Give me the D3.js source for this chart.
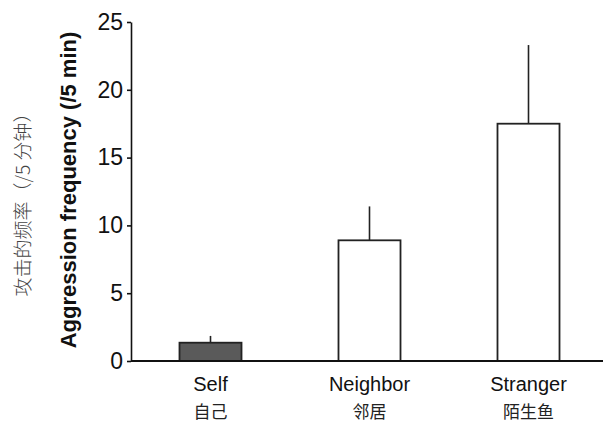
<!DOCTYPE html>
<html>
<head>
<meta charset="utf-8">
<script src="https://cdn.jsdelivr.net/npm/d3@7"></script>
<style>
    body { margin: 0; background: #fff; }
    svg { display: block; }
    .axis text { font-family: "Liberation Sans", Arial, sans-serif; font-size: 23px; fill: #111; }
    .axis path, .axis line { stroke: #111; stroke-width: 1.6px; }
</style>
</head>
<body>
<svg id="chart" width="603" height="423"></svg>
<script>
const categories = ["Self", "Neighbor", "Stranger"];
const categoriesZh = ["自己", "邻居", "陌生鱼"];
const means = [1.35, 8.9, 17.5];
const errorTops = [1.85, 11.4, 23.3];
const yTicks = [0, 5, 10, 15, 20, 25];

const svg = d3.select("#chart");

// scales, roughly lined up with the scanned figure
const x = d3.scaleBand()
    .domain(categories)
    .range([131, 608])
    .paddingInner(0.61)
    .paddingOuter(0.305);

const y = d3.scaleLinear()
    .domain([0, 25])
    .range([361, 22]);

// y axis
const yAxis = d3.axisLeft(y)
    .tickValues(yTicks)
    .tickSize(4)
    .tickPadding(4)
    .tickSizeOuter(0);

svg.append("g")
    .attr("class", "axis axis-y")
    .attr("transform", "translate(131,0)")
    .call(yAxis);

// bars
const bars = categories.map((c, i) => ({cat: c, mean: means[i], top: errorTops[i]}));

svg.selectAll("line.err")
    .data(bars)
  .enter().append("line")
    .attr("class", "err")
    .attr("x1", d => x(d.cat) + x.bandwidth() / 2)
    .attr("x2", d => x(d.cat) + x.bandwidth() / 2)
    .attr("y1", d => y(d.mean))
    .attr("y2", d => y(d.top))
    .attr("stroke", "#222")
    .attr("stroke-width", 1.6);

svg.selectAll("rect.bar")
    .data(bars)
  .enter().append("rect")
    .attr("class", "bar")
    .attr("x", d => x(d.cat))
    .attr("y", d => y(d.mean))
    .attr("width", x.bandwidth())
    .attr("height", d => y(0) - y(d.mean))
    .attr("fill", (d, i) => i === 0 ? "#5a5a5a" : "#fff")
    .attr("stroke", "#222")
    .attr("stroke-width", 1.8);

// baseline runs across the whole plot
svg.append("line")
    .attr("x1", 131)
    .attr("x2", 603)
    .attr("y1", y(0))
    .attr("y2", y(0))
    .attr("stroke", "#111")
    .attr("stroke-width", 1.8);

// category labels, english + chinese
const labels = svg.append("g").attr("class", "cat-labels");

labels.selectAll("text.en")
    .data(categories)
  .enter().append("text")
    .attr("class", "en")
    .attr("x", d => x(d) + x.bandwidth() / 2)
    .attr("y", 391)
    .attr("text-anchor", "middle")
    .style("font-family", "'Liberation Sans', Arial, sans-serif")
    .style("font-size", "20px")
    .style("fill", "#111")
    .text(d => d);

labels.selectAll("text.zh")
    .data(categoriesZh)
  .enter().append("text")
    .attr("class", "zh")
    .attr("x", (d, i) => x(categories[i]) + x.bandwidth() / 2)
    .attr("y", 418)
    .attr("text-anchor", "middle")
    .style("font-family", "'Noto Sans CJK SC', sans-serif")
    .style("font-size", "17px")
    .style("fill", "#222")
    .text(d => d);

// axis titles
svg.append("text")
    .attr("transform", "translate(76,190) rotate(-90)")
    .attr("text-anchor", "middle")
    .style("font-family", "'Liberation Sans', Arial, sans-serif")
    .style("font-size", "22px")
    .style("font-weight", "bold")
    .style("fill", "#111")
    .text("Aggression frequency (/5 min)");

svg.append("text")
    .attr("transform", "translate(30,200) rotate(-90)")
    .attr("text-anchor", "middle")
    .style("font-family", "'Noto Sans CJK SC', sans-serif")
    .style("font-size", "19px")
    .style("font-weight", "300")
    .style("fill", "#444")
    .text("攻击的频率（/5 分钟）");
</script>
</body>
</html>
